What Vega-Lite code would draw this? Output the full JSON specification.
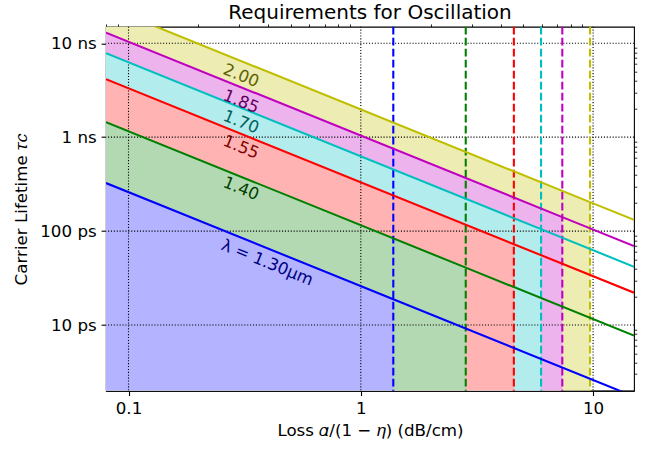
{
  "$schema": "https://vega.github.io/schema/vega-lite/v6.json",
  "width": 528,
  "height": 364,
  "autosize": {"type": "none"},
  "padding": {"left": 106, "top": 26.7, "right": 16, "bottom": 58},
  "background": "white",
  "title": {
    "text": "Requirements for Oscillation",
    "font": "DejaVu Sans",
    "fontSize": 20,
    "fontWeight": "normal",
    "color": "black",
    "offset": 0
  },
  "config": {
    "font": "DejaVu Sans",
    "view": {"stroke": "black", "strokeWidth": 1.1},
    "axis": {
      "grid": false,
      "domainColor": "black",
      "domainWidth": 1.1,
      "tickColor": "black",
      "tickWidth": 1.1,
      "tickSize": 4.9,
      "labelFont": "DejaVu Sans",
      "labelFontSize": 16.7,
      "labelColor": "black",
      "labelPadding": 4.9,
      "labelFlush": false,
      "labelOverlap": false,
      "titleFont": "DejaVu Sans",
      "titleFontSize": 16.7,
      "titleFontWeight": "normal",
      "titleColor": "black"
    }
  },
  "datasets": {
    "curves": [
      {"lam": "2.00", "x": 0.08, "tau": 24675, "edge": "left"},
      {"lam": "2.00", "x": 9.7, "tau": 203.5, "edge": "cut"},
      {"lam": "2.00", "x": 15, "tau": 131.6, "edge": "right"},
      {"lam": "1.85", "x": 0.08, "tau": 12975, "edge": "left"},
      {"lam": "1.85", "x": 7.37, "tau": 140.8, "edge": "cut"},
      {"lam": "1.85", "x": 15, "tau": 69.2, "edge": "right"},
      {"lam": "1.70", "x": 0.08, "tau": 7825, "edge": "left"},
      {"lam": "1.70", "x": 5.97, "tau": 104.9, "edge": "cut"},
      {"lam": "1.70", "x": 15, "tau": 41.73, "edge": "right"},
      {"lam": "1.55", "x": 0.08, "tau": 4138, "edge": "left"},
      {"lam": "1.55", "x": 4.56, "tau": 72.6, "edge": "cut"},
      {"lam": "1.55", "x": 15, "tau": 22.07, "edge": "right"},
      {"lam": "1.40", "x": 0.08, "tau": 1445, "edge": "left"},
      {"lam": "1.40", "x": 2.83, "tau": 40.85, "edge": "cut"},
      {"lam": "1.40", "x": 15, "tau": 7.71, "edge": "right"},
      {"lam": "1.30", "x": 0.08, "tau": 325, "edge": "left"},
      {"lam": "1.30", "x": 1.38, "tau": 18.84, "edge": "cut"},
      {"lam": "1.30", "x": 15, "tau": 1.733, "edge": "right"}
    ],
    "cutoffs": [
      {"lam": "2.00", "xc": 9.7},
      {"lam": "1.85", "xc": 7.37},
      {"lam": "1.70", "xc": 5.97},
      {"lam": "1.55", "xc": 4.56},
      {"lam": "1.40", "xc": 2.83},
      {"lam": "1.30", "xc": 1.38}
    ],
    "labels": [
      {"lam": "2.00", "text": "2.00", "x": 0.305, "tau": 4500},
      {"lam": "1.85", "text": "1.85", "x": 0.305, "tau": 2380},
      {"lam": "1.70", "text": "1.70", "x": 0.305, "tau": 1440},
      {"lam": "1.55", "text": "1.55", "x": 0.305, "tau": 780},
      {"lam": "1.40", "text": "1.40", "x": 0.305, "tau": 282},
      {"lam": "1.30", "text": "λ = 1.30μm", "x": 0.395, "tau": 46}
    ],
    "xgrid": [{"v": 0.1}, {"v": 1}, {"v": 10}],
    "ygrid": [{"v": 10}, {"v": 100}, {"v": 1000}, {"v": 10000}]
  },
  "layer": [
    {
      "data": {"name": "curves"},
      "transform": [{"filter": "datum.edge != 'right'"}],
      "mark": {"type": "area", "clip": true, "opacity": 1},
      "encoding": {
        "x": {
          "field": "x", "type": "quantitative",
          "scale": {"type": "log", "domain": [0.08, 15], "nice": false},
          "axis": {"values": [0.1, 1, 10], "format": "~g", "title": "Loss 𝛼/(1 − 𝜂) (dB/cm)", "titlePadding": 5}
        },
        "y": {
          "field": "tau", "type": "quantitative", "stack": null,
          "scale": {"type": "log", "domain": [2, 15000], "nice": false},
          "axis": {
            "values": [10, 100, 1000, 10000],
            "labelExpr": "datum.value >= 1000 ? format(datum.value / 1000, '~g') + ' ns' : format(datum.value, '~g') + ' ps'",
            "title": "Carrier Lifetime 𝜏𝑐",
            "titlePadding": 9
          }
        },
        "y2": {"datum": 2},
        "fill": {
          "field": "lam", "type": "nominal", "legend": null,
          "scale": {
            "domain": ["2.00", "1.85", "1.70", "1.55", "1.40", "1.30"],
            "range": ["#ececb3", "#ecb3ec", "#b3ecec", "#ffb3b3", "#b3d9b3", "#b3b3ff"]
          }
        }
      }
    },
    {
      "data": {"name": "xgrid"},
      "mark": {"type": "rule", "color": "black", "strokeWidth": 1.1, "strokeDash": [1.1, 1.8]},
      "encoding": {
        "x": {
          "field": "v", "type": "quantitative",
          "axis": {
            "values": [0.08, 0.09, 0.2, 0.3, 0.4, 0.5, 0.6, 0.7, 0.8, 0.9, 2, 3, 4, 5, 6, 7, 8, 9],
            "labels": false, "domain": false, "tickSize": 2.8, "tickWidth": 0.83, "title": null
          }
        }
      }
    },
    {
      "data": {"name": "ygrid"},
      "mark": {"type": "rule", "color": "black", "strokeWidth": 1.1, "strokeDash": [1.1, 1.8]},
      "encoding": {
        "y": {
          "field": "v", "type": "quantitative",
          "axis": {
            "values": [3, 4, 5, 6, 7, 8, 9, 20, 30, 40, 50, 60, 70, 80, 90, 200, 300, 400, 500, 600, 700, 800, 900, 2000, 3000, 4000, 5000, 6000, 7000, 8000, 9000],
            "labels": false, "domain": false, "tickSize": 2.8, "tickWidth": 0.83, "title": null
          }
        }
      }
    },
    {
      "data": {"name": "cutoffs"},
      "mark": {"type": "rule", "strokeWidth": 2.08, "strokeDash": [7.7, 3.3]},
      "encoding": {
        "x": {"field": "xc", "type": "quantitative", "axis": null},
        "stroke": {
          "field": "lam", "type": "nominal", "legend": null,
          "scale": {
            "domain": ["2.00", "1.85", "1.70", "1.55", "1.40", "1.30"],
            "range": ["#bfbf00", "#bf00bf", "#00bfbf", "#ff0000", "#008000", "#0000ff"]
          }
        }
      }
    },
    {
      "data": {"name": "curves"},
      "mark": {"type": "line", "clip": true, "strokeWidth": 2.08},
      "encoding": {
        "x": {"field": "x", "type": "quantitative", "axis": null},
        "y": {"field": "tau", "type": "quantitative", "axis": null},
        "stroke": {"field": "lam", "type": "nominal", "legend": null},
        "order": {"field": "x", "type": "quantitative"}
      }
    },
    {
      "data": {"name": "labels"},
      "mark": {"type": "text", "angle": 22, "align": "center", "baseline": "middle", "fontSize": 16.5, "font": "DejaVu Sans"},
      "encoding": {
        "x": {"field": "x", "type": "quantitative", "axis": null},
        "y": {"field": "tau", "type": "quantitative", "axis": null},
        "text": {"field": "text"},
        "color": {
          "field": "lam", "type": "nominal", "legend": null,
          "scale": {
            "domain": ["2.00", "1.85", "1.70", "1.55", "1.40", "1.30"],
            "range": ["#5f5f00", "#5f005f", "#005f5f", "#800000", "#004000", "#000080"]
          }
        }
      }
    }
  ],
  "resolve": {"axis": {"x": "independent", "y": "independent"}}
}
